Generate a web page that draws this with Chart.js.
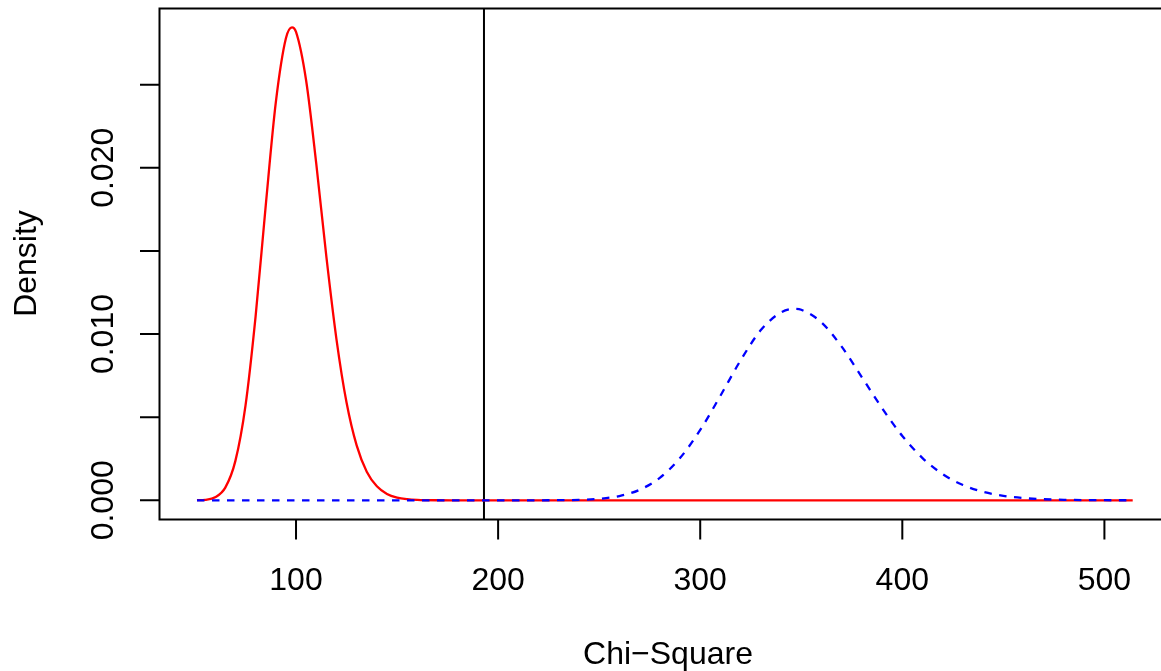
<!DOCTYPE html>
<html><head><meta charset="utf-8">
<script src="https://cdn.jsdelivr.net/npm/chart.js@4/dist/chart.umd.min.js"></script>
<style>html,body{margin:0;padding:0;background:#fff;overflow:hidden}canvas{display:block}</style>
</head><body>
<canvas id="c" width="1161" height="671"></canvas>
<script>
// Central chi-square density (red, solid)
const redX = [51, 55, 60, 65, 70, 75, 80, 85, 90, 95, 98, 100, 105, 110, 115, 120, 125, 130, 135, 140, 145, 150, 155, 160, 170, 180, 514];
const redY = [0.000006, 0.0000315, 0.000184, 0.000763, 0.00237, 0.00570, 0.01107, 0.01771, 0.02393, 0.02779, 0.02845, 0.02817, 0.02525, 0.02026, 0.01467, 0.00970, 0.00588, 0.00330, 0.00172, 0.00084, 0.000384, 0.000166, 0.000068, 0.000026, 0.000003, 0, 0];
// Non-central chi-square density (blue, dashed)
const blueX = [51, 200, 220, 230, 240, 250, 260, 270, 280, 290, 300, 310, 320, 330, 340, 347, 350, 360, 370, 380, 390, 400, 410, 420, 430, 440, 450, 460, 470, 480, 490, 500, 514];
const blueY = [0, 0, 0.000001, 0.0000067, 0.000027, 0.00009, 0.000257, 0.000632, 0.001351, 0.00254, 0.00423, 0.00629, 0.00842, 0.01024, 0.01130, 0.01152, 0.01146, 0.01070, 0.00924, 0.00740, 0.00554, 0.00387, 0.00254, 0.00157, 0.000918, 0.000507, 0.000266, 0.000133, 0.000063, 0.000029, 0.000013, 0.000005, 0.000001];
// Critical value (vertical line)
const criticalX = 193;
const xTicks = [100, 200, 300, 400, 500];
const xTickLabels = ['100', '200', '300', '400', '500'];
const yTicks = [0, 0.005, 0.010, 0.015, 0.020, 0.025];
const yTickLabels = ['0.000', '', '0.010', '', '0.020', ''];
const xTitle = 'Chi\u2212Square';
const yTitle = 'Density';

const FONT = '32px "Liberation Sans", Arial, Helvetica, sans-serif';

const rAxes = {
  id: 'rAxes',
  afterDraw(chart) {
    const ctx = chart.ctx, a = chart.chartArea;
    const xs = chart.scales.x, ys = chart.scales.y;
    ctx.save();
    ctx.strokeStyle = '#000';
    ctx.lineWidth = 2;
    ctx.beginPath();
    // box (right side is off-canvas)
    ctx.moveTo(a.right + 2, a.top + 0.5);
    ctx.lineTo(a.left + 0.5, a.top + 0.5);
    ctx.lineTo(a.left + 0.5, a.bottom + 0.5);
    ctx.lineTo(a.right + 2, a.bottom + 0.5);
    ctx.stroke();
    // x ticks
    ctx.beginPath();
    xTicks.forEach(v => {
      const px = xs.getPixelForValue(v);
      ctx.moveTo(px, a.bottom + 0.5);
      ctx.lineTo(px, a.bottom + 20.5);
    });
    // y ticks
    yTicks.forEach(v => {
      const py = ys.getPixelForValue(v);
      ctx.moveTo(a.left + 0.5, py);
      ctx.lineTo(a.left - 19, py);
    });
    ctx.stroke();
    ctx.fillStyle = '#000';
    ctx.font = FONT;
    ctx.textAlign = 'center';
    ctx.textBaseline = 'alphabetic';
    xTicks.forEach((v, i) => {
      ctx.fillText(xTickLabels[i], xs.getPixelForValue(v), 589.5);
    });
    ctx.fillText(xTitle, 668, 664);
    yTicks.forEach((v, i) => {
      if (!yTickLabels[i]) return;
      ctx.save();
      ctx.translate(113, ys.getPixelForValue(v));
      ctx.rotate(-Math.PI / 2);
      ctx.fillText(yTickLabels[i], 0, 0);
      ctx.restore();
    });
    ctx.save();
    ctx.translate(36, (a.top + a.bottom) / 2);
    ctx.rotate(-Math.PI / 2);
    ctx.fillText(yTitle, 0, 0);
    ctx.restore();
    ctx.restore();
  }
};

new Chart(document.getElementById('c'), {
  type: 'line',
  data: {
    datasets: [
      {
        label: 'noncentral',
        data: blueX.map((x, i) => ({x, y: blueY[i]})),
        borderColor: '#0000ff',
        borderWidth: 2.3,
        borderDash: [7.5, 7.5],
        pointRadius: 0,
        fill: false,
        cubicInterpolationMode: 'monotone'
      },
      {
        label: 'central',
        data: redX.map((x, i) => ({x, y: redY[i]})),
        borderColor: '#ff0000',
        borderWidth: 2.3,
        pointRadius: 0,
        fill: false,
        cubicInterpolationMode: 'monotone'
      },
      {
        label: 'critical',
        data: [{x: criticalX, y: -1}, {x: criticalX, y: 1}],
        borderColor: '#000000',
        borderWidth: 2,
        pointRadius: 0,
        fill: false
      }
    ]
  },
  options: {
    responsive: false,
    animation: false,
    devicePixelRatio: 1,
    layout: {padding: {left: 159, top: 8, right: 0, bottom: 152}},
    scales: {
      x: {type: 'linear', min: 32.2, max: 528.0, display: false},
      y: {type: 'linear', min: -0.001125, max: 0.029613, display: false}
    },
    plugins: {legend: {display: false}, tooltip: {enabled: false}}
  },
  plugins: [rAxes]
});
</script>
</body></html>
